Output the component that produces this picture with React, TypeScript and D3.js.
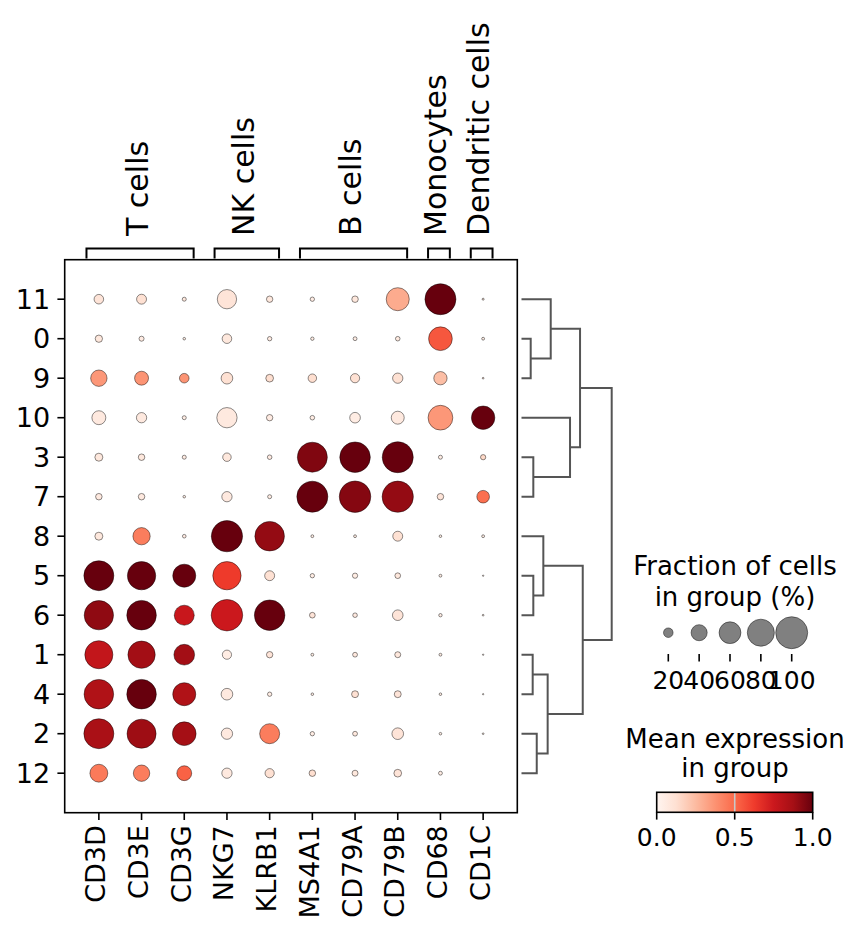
import React from "react";
import * as d3 from "d3";

const genes = ["CD3D", "CD3E", "CD3G", "NKG7", "KLRB1", "MS4A1", "CD79A", "CD79B", "CD68", "CD1C"];
const clusters = ["11", "0", "9", "10", "3", "7", "8", "5", "6", "1", "4", "2", "12"];
const groupNames = ["T cells", "NK cells", "B cells", "Monocytes", "Dendritic cells"];
const groupStart = [0, 3, 5, 8, 9];
const groupEnd = [2, 4, 7, 8, 9];

// fraction of cells expressing (0-1), rows follow `clusters`
const fractions = [
  [0.20, 0.21, 0.063, 0.51, 0.117, 0.07, 0.12, 0.645, 0.96, 0.025],
  [0.14, 0.085, 0.035, 0.20, 0.07, 0.05, 0.06, 0.075, 0.67, 0.04],
  [0.41, 0.33, 0.20, 0.26, 0.15, 0.17, 0.19, 0.22, 0.31, 0.02],
  [0.33, 0.22, 0.063, 0.545, 0.117, 0.075, 0.23, 0.30, 0.71, 0.66],
  [0.157, 0.12, 0.063, 0.17, 0.075, 0.917, 0.94, 0.96, 0.063, 0.09],
  [0.12, 0.12, 0.035, 0.22, 0.063, 0.96, 0.98, 0.97, 0.12, 0.29],
  [0.157, 0.44, 0.055, 0.97, 0.90, 0.04, 0.04, 0.21, 0.035, 0.04],
  [0.917, 0.85, 0.645, 0.85, 0.21, 0.07, 0.09, 0.10, 0.04, 0.015],
  [0.89, 0.90, 0.534, 0.98, 0.94, 0.10, 0.075, 0.23, 0.05, 0.02],
  [0.84, 0.81, 0.56, 0.19, 0.117, 0.04, 0.08, 0.107, 0.04, 0.015],
  [0.90, 0.90, 0.645, 0.26, 0.07, 0.035, 0.13, 0.13, 0.035, 0.015],
  [0.917, 0.88, 0.67, 0.25, 0.534, 0.07, 0.08, 0.26, 0.035, 0.02],
  [0.46, 0.41, 0.36, 0.22, 0.19, 0.12, 0.107, 0.15, 0.06, 0],
];

// mean expression (0-1), rows follow `clusters`
const expression = [
  [0.10, 0.12, 0.08, 0.10, 0.08, 0.05, 0.08, 0.30, 1.0, 0.10],
  [0.08, 0.06, 0.05, 0.08, 0.06, 0.05, 0.05, 0.07, 0.55, 0.05],
  [0.36, 0.37, 0.37, 0.12, 0.13, 0.13, 0.12, 0.12, 0.24, 0.10],
  [0.07, 0.07, 0.05, 0.07, 0.06, 0.05, 0.05, 0.07, 0.36, 1.0],
  [0.08, 0.08, 0.06, 0.08, 0.06, 0.95, 1.0, 1.0, 0.05, 0.15],
  [0.07, 0.07, 0.05, 0.07, 0.05, 1.0, 0.94, 0.91, 0.10, 0.48],
  [0.08, 0.44, 0.06, 1.0, 0.91, 0.05, 0.05, 0.12, 0.05, 0.05],
  [1.0, 1.0, 1.0, 0.63, 0.12, 0.05, 0.05, 0.08, 0.05, 0.05],
  [0.92, 1.0, 0.76, 0.75, 1.0, 0.10, 0.07, 0.10, 0.05, 0.05],
  [0.78, 0.88, 0.88, 0.05, 0.10, 0.05, 0.08, 0.08, 0.05, 0.05],
  [0.84, 1.0, 0.84, 0.07, 0.05, 0.05, 0.12, 0.10, 0.05, 0.05],
  [0.86, 0.89, 0.875, 0.07, 0.44, 0.05, 0.08, 0.10, 0.05, 0.05],
  [0.45, 0.44, 0.52, 0.07, 0.12, 0.13, 0.08, 0.10, 0.05, 0],
];

// dendrogram linkage: [childA, childB, height]; "mN" refers to the N-th merge
const linkage: [string, string, number][] = [
  ["0", "9", 0.102],
  ["11", "m0", 0.324],
  ["3", "7", 0.131],
  ["10", "m2", 0.538],
  ["m1", "m3", 0.649],
  ["5", "6", 0.131],
  ["8", "m5", 0.242],
  ["1", "4", 0.124],
  ["2", "12", 0.169],
  ["m7", "m8", 0.29],
  ["m6", "m9", 0.679],
  ["m4", "m10", 1.0],
];

const sizeLegendValues = [20, 40, 60, 80, 100];
const colorTicks = [0.0, 0.5, 1.0];
const redsColors = ["#fff5f0", "#fee0d2", "#fcbba1", "#fc9272", "#fb6a4a", "#ef3b2c", "#cb181d", "#a50f15", "#67000d"];

const FONT = "DejaVu Sans, sans-serif";

export default function App() {
  const left = 64.7, right = 517.3, top = 259.7, bottom = 812.7;
  const x = d3.scaleLinear().domain([-0.8, 9.8]).range([left, right]);
  const y = d3.scaleLinear().domain([-1, 13]).range([top, bottom]);
  const step = x(1) - x(0);
  const rScale = d3.scalePow().exponent(0.75).domain([0, 1]).range([0, 16]);
  const color = d3.scaleLinear<string>()
    .domain(redsColors.map((_, i) => i / (redsColors.length - 1)))
    .range(redsColors)
    .clamp(true);

  // dendrogram
  const dx = d3.scaleLinear().domain([0, 1]).range([521.5, 611.7]);
  const nodePos: Record<string, { x: number; y: number }> = {};
  clusters.forEach((c, i) => (nodePos[c] = { x: dx(0), y: y(i) }));
  const dendroPaths: string[] = [];
  linkage.forEach(([a, b, h], i) => {
    const pa = nodePos[a], pb = nodePos[b];
    const hx = dx(h);
    const p = d3.path();
    p.moveTo(pa.x, pa.y);
    p.lineTo(hx, pa.y);
    p.lineTo(hx, pb.y);
    p.lineTo(pb.x, pb.y);
    dendroPaths.push(p.toString());
    nodePos["m" + i] = { x: hx, y: (pa.y + pb.y) / 2 };
  });

  // legends
  const lcx = 735;
  const sx = d3.scalePoint<number>().domain(sizeLegendValues).range([668.3, 791.7]);
  const cbX = d3.scaleLinear().domain([0, 1]).range([656.7, 812.7]);
  const cbTop = 792.3, cbBottom = 812.3;

  const tickFont = 27;
  const groupFont = 30;
  const legendFont = 26;

  return (
    <svg
      width={860}
      height={934}
      style={{ display: "block", position: "absolute", left: 0, top: 0 }}
      fontFamily={FONT}
    >
      <defs>
        <linearGradient id="reds" x1="0" x2="1" y1="0" y2="0">
          {redsColors.map((c, i) => (
            <stop key={i} offset={i / (redsColors.length - 1)} stopColor={c} />
          ))}
        </linearGradient>
      </defs>
      <rect x={0} y={0} width={860} height={934} fill="white" />

      {/* dots */}
      <g>
        {clusters.map((c, i) =>
          genes.map((g, j) => {
            const f = fractions[i][j];
            if (f <= 0) return null;
            return (
              <circle
                key={c + g}
                cx={x(j)}
                cy={y(i)}
                r={rScale(f)}
                fill={color(expression[i][j])}
                stroke="#000"
                strokeWidth={0.45}
              />
            );
          })
        )}
      </g>

      {/* frame */}
      <rect x={left} y={top} width={right - left} height={bottom - top} fill="none" stroke="#000" strokeWidth={1.6} />

      {/* y ticks */}
      {clusters.map((c, i) => (
        <g key={c}>
          <line x1={left - 7.3} x2={left} y1={y(i)} y2={y(i)} stroke="#000" strokeWidth={1.6} />
          <text x={left - 14.6} y={y(i)} dy="0.36em" textAnchor="end" fontSize={tickFont}>
            {c}
          </text>
        </g>
      ))}

      {/* x ticks */}
      {genes.map((g, j) => (
        <g key={g}>
          <line x1={x(j)} x2={x(j)} y1={bottom} y2={bottom + 7.3} stroke="#000" strokeWidth={1.6} />
          <text
            transform={`translate(${x(j)},${bottom + 12.5}) rotate(-90)`}
            dy="0.24em"
            textAnchor="end"
            fontSize={tickFont}
          >
            {g}
          </text>
        </g>
      ))}

      {/* group brackets */}
      {groupNames.map((name, k) => {
        const l = x(groupStart[k]) - 0.29 * step;
        const r = x(groupEnd[k]) + 0.22 * step;
        const cx = (l + r) / 2;
        return (
          <g key={name}>
            <path
              d={`M${l},258.5 V248.5 H${r} V258.5`}
              fill="none"
              stroke="#000"
              strokeWidth={2}
            />
            <text
              transform={`translate(${cx},236) rotate(-90)`}
              dy="0.25em"
              textAnchor="start"
              fontSize={groupFont}
            >
              {name}
            </text>
          </g>
        );
      })}

      {/* dendrogram */}
      <g fill="none" stroke="#555555" strokeWidth={2}>
        {dendroPaths.map((d, i) => (
          <path key={i} d={d} />
        ))}
      </g>

      {/* size legend */}
      <text x={lcx} y={575} textAnchor="middle" fontSize={legendFont}>Fraction of cells</text>
      <text x={lcx} y={606} textAnchor="middle" fontSize={legendFont}>in group (%)</text>
      {sizeLegendValues.map((v) => (
        <g key={v}>
          <circle cx={sx(v)} cy={632.7} r={rScale(v / 100)} fill="#808080" stroke="#000" strokeWidth={0.45} />
          <line x1={sx(v)} x2={sx(v)} y1={654} y2={661.5} stroke="#000" strokeWidth={1.6} />
          <text x={sx(v)} y={689} textAnchor="middle" fontSize={25}>{v}</text>
        </g>
      ))}

      {/* color legend */}
      <text x={lcx} y={748} textAnchor="middle" fontSize={legendFont}>Mean expression</text>
      <text x={lcx} y={777} textAnchor="middle" fontSize={legendFont}>in group</text>
      <rect x={cbX(0)} y={cbTop} width={cbX(1) - cbX(0)} height={cbBottom - cbTop} fill="url(#reds)" />
      <line x1={cbX(0.5)} x2={cbX(0.5)} y1={cbTop} y2={cbBottom} stroke="#c8c8c8" strokeWidth={1.6} />
      <rect x={cbX(0)} y={cbTop} width={cbX(1) - cbX(0)} height={cbBottom - cbTop} fill="none" stroke="#000" strokeWidth={1.6} />
      {colorTicks.map((t) => (
        <g key={t}>
          <line x1={cbX(t)} x2={cbX(t)} y1={cbBottom} y2={cbBottom + 7.3} stroke="#000" strokeWidth={1.6} />
          <text x={cbX(t)} y={846} textAnchor="middle" fontSize={25}>{t.toFixed(1)}</text>
        </g>
      ))}
    </svg>
  );
}
